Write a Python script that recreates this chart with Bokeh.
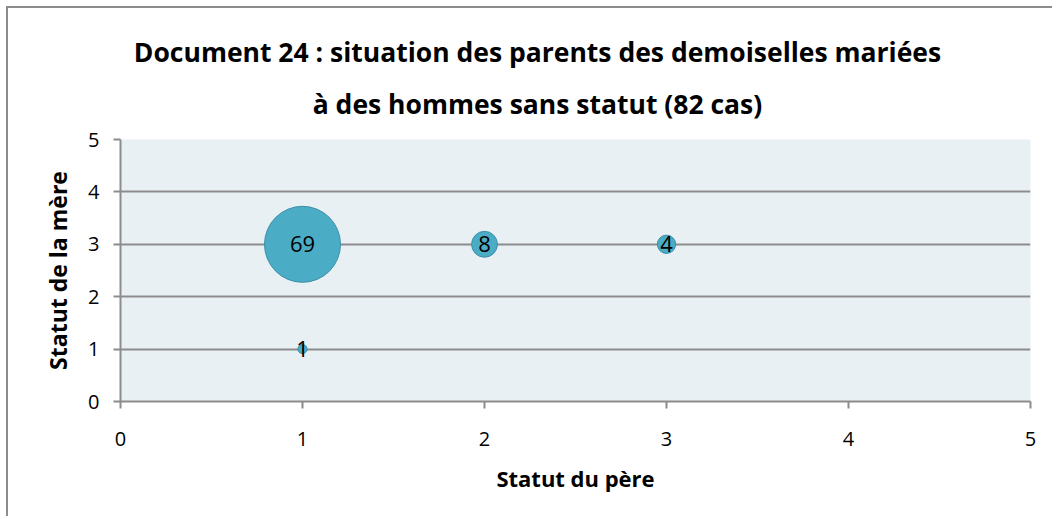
from bokeh.plotting import figure
from bokeh.models import Range1d, FixedTicker, ColumnDataSource, Title
from bokeh.embed import file_html
from bokeh.resources import INLINE
import numpy as np

pere = [1, 2, 3, 1]
mere = [3, 3, 3, 1]
cas = [69, 8, 4, 1]
labels = [str(c) for c in cas]
ticks = [0, 1, 2, 3, 4, 5]
title_lines = ["Document 24 : situation des parents des demoiselles mariées",
               "à des hommes sans statut (82 cas)"]

FONT = "Open Sans"
GRAY = "#8c8c8c"

sizes = list(76 * np.sqrt(np.array(cas) / max(cas)))
src = ColumnDataSource(dict(x=pere, y=mere, s=sizes, t=labels))

p = figure(width=1046, height=510, output_backend="svg", toolbar_location=None,
           x_range=Range1d(0, 5), y_range=Range1d(0, 5),
           min_border_left=112, min_border_right=24, min_border_top=131, min_border_bottom=117,
           background_fill_color="#e9f0f4", border_fill_color="white",
           outline_line_color=None)
p.title = None
p.add_layout(Title(text=title_lines[1], align="center", vertical_align="top",
                   text_font=FONT, text_font_size="26.5px", text_font_style="bold",
                   text_color="black", text_line_height=0.85, standoff=32,
                   padding=(0, 76, 0, 0)), "above")
p.add_layout(Title(text=title_lines[0], align="center",
                   text_font=FONT, text_font_size="26.5px", text_font_style="bold",
                   text_color="black", text_line_height=0.85, standoff=0,
                   padding=(0, 76, 0, 0)), "above")

p.styles = {"margin": "6px 0 0 6px",
            "border-left": "2px solid #8c8c8c", "border-top": "2px solid #8c8c8c"}

p.scatter("x", "y", size="s", source=src, fill_color="#4bacc6", line_color="#3b8ea8", line_width=1)
p.text("x", "y", text="t", source=src, text_align="center", text_baseline="middle",
       text_font={"value": FONT}, text_font_size={"value": "22px"}, text_color="black")

for ax in (p.xaxis[0], p.yaxis[0]):
    ax.ticker = FixedTicker(ticks=ticks)
    ax.axis_line_color = GRAY
    ax.axis_line_width = 2
    ax.major_tick_line_color = GRAY
    ax.major_tick_line_width = 2
    ax.major_tick_out = 7
    ax.major_tick_in = 0
    ax.minor_tick_line_color = None
    ax.major_label_text_font = FONT
    ax.major_label_text_font_size = "20px"
    ax.major_label_text_color = "black"
    ax.axis_label_text_font = FONT
    ax.axis_label_text_font_size = "22px"
    ax.axis_label_text_font_style = "bold"
    ax.axis_label_text_color = "black"

p.xaxis.axis_label = "Statut du père"
p.xaxis.major_label_standoff = 23
p.xaxis.axis_label_standoff = 14
p.yaxis.axis_label = "Statut de la mère"
p.yaxis.axis_label_text_font_size = "23px"
p.yaxis.major_label_standoff = 14
p.yaxis.axis_label_standoff = 11

p.xgrid.grid_line_color = None
p.ygrid.grid_line_color = GRAY
p.ygrid.grid_line_width = 2
p.ygrid.ticker = FixedTicker(ticks=ticks)

open("out.html", "w").write(file_html(p, INLINE))
